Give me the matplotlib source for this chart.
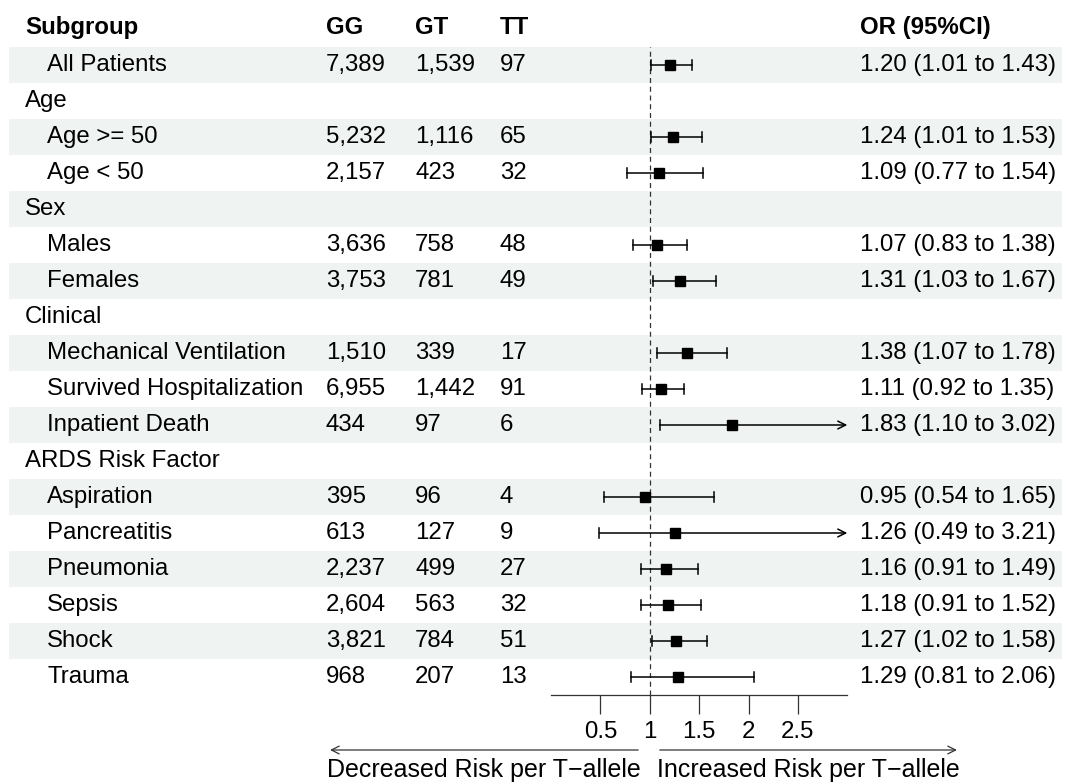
import matplotlib
matplotlib.use("Agg")
import matplotlib.pyplot as plt
import matplotlib.patches as mpatches

plt.rcParams['font.family'] = ['Liberation Sans', 'DejaVu Sans']

# ---- data ----
subgroups = ["All Patients", "Age", "Age >= 50", "Age < 50", "Sex", "Males", "Females",
             "Clinical", "Mechanical Ventilation", "Survived Hospitalization", "Inpatient Death",
             "ARDS Risk Factor", "Aspiration", "Pancreatitis", "Pneumonia", "Sepsis", "Shock", "Trauma"]
is_header = [False, True, False, False, True, False, False, True, False, False, False,
             True, False, False, False, False, False, False]
gg = ["7,389", "", "5,232", "2,157", "", "3,636", "3,753", "", "1,510", "6,955", "434",
      "", "395", "613", "2,237", "2,604", "3,821", "968"]
gt = ["1,539", "", "1,116", "423", "", "758", "781", "", "339", "1,442", "97",
      "", "96", "127", "499", "563", "784", "207"]
tt = ["97", "", "65", "32", "", "48", "49", "", "17", "91", "6",
      "", "4", "9", "27", "32", "51", "13"]
est = [1.20, None, 1.24, 1.09, None, 1.07, 1.31, None, 1.38, 1.11, 1.83,
       None, 0.95, 1.26, 1.16, 1.18, 1.27, 1.29]
low = [1.01, None, 1.01, 0.77, None, 0.83, 1.03, None, 1.07, 0.92, 1.10,
       None, 0.54, 0.49, 0.91, 0.91, 1.02, 0.81]
hi = [1.43, None, 1.53, 1.54, None, 1.38, 1.67, None, 1.78, 1.35, 3.02,
      None, 1.65, 3.21, 1.49, 1.52, 1.58, 2.06]
col_headers = ["Subgroup", "GG", "GT", "TT", "OR (95%CI)"]
xticks = [0.5, 1, 1.5, 2, 2.5]
xlim = (0, 3)
ref_line = 1
left_label = "Decreased Risk per T\u2212allele"
right_label = "Increased Risk per T\u2212allele"

# ---- layout (pixels) ----
W, H = 1068, 782
fig = plt.figure(figsize=(W / 100, H / 100), dpi=100)
n = len(subgroups)
top_px, bot_px = 47, 47 + 36 * n  # 695
fs = 17.3
shade = "#EFF3F2"

bg = fig.add_axes([0, (H - bot_px) / H, 1, (bot_px - top_px) / H])
bg.set_xlim(0, W)
bg.set_ylim(n, 0)
bg.axis("off")
for i in range(n):
    if i % 2 == 0:
        bg.add_patch(plt.Rectangle((9, i), 1053, 1, color=shade, lw=0, zorder=0))

col_x = [25, 326, 415, 500, 860]
for cx, h in zip(col_x, col_headers):
    bg.text(cx, -0.55, h, ha="left", va="center", fontsize=fs, fontweight="bold", clip_on=False)

for i in range(n):
    y = i + 0.5
    if is_header[i]:
        bg.text(25, y, subgroups[i], ha="left", va="center", fontsize=fs)
    else:
        bg.text(47, y, subgroups[i], ha="left", va="center", fontsize=fs)
        bg.text(col_x[1], y, gg[i], ha="left", va="center", fontsize=fs)
        bg.text(col_x[2], y, gt[i], ha="left", va="center", fontsize=fs)
        bg.text(col_x[3], y, tt[i], ha="left", va="center", fontsize=fs)
        bg.text(col_x[4], y, f"{est[i]:.2f} ({low[i]:.2f} to {hi[i]:.2f})",
                ha="left", va="center", fontsize=fs)

# forest axes
fx0, fx1 = 551, 847.3
ax = fig.add_axes([fx0 / W, (H - bot_px) / H, (fx1 - fx0) / W, (bot_px - top_px) / H])
ax.patch.set_alpha(0)
ax.set_xlim(*xlim)
ax.set_ylim(n, 0)
for s in ["top", "right", "left"]:
    ax.spines[s].set_visible(False)
ax.spines["bottom"].set_linewidth(0.9)
ax.spines["bottom"].set_color("#333333")
ax.set_yticks([])
ax.set_xticks(xticks)
ax.set_xticklabels([f"{t:g}" for t in xticks], fontsize=fs)
ax.tick_params(axis="x", length=14, width=0.9, color="#333333", pad=5)

ax.axvline(ref_line, ls=(0, (4, 3)), color="#333333", lw=0.9, zorder=1)

cap = 0.13
for i in range(n):
    if est[i] is None:
        continue
    y = i + 0.5
    lo, up = low[i], hi[i]
    lo_c = max(lo, xlim[0])
    up_c = min(up, xlim[1])
    if up > xlim[1]:
        ax.annotate("", xy=(xlim[1], y), xytext=(lo_c, y),
                    arrowprops=dict(arrowstyle="->", lw=1.1, color="black",
                                    shrinkA=0, shrinkB=0, mutation_scale=14),
                    annotation_clip=False)
    else:
        ax.plot([lo_c, up_c], [y, y], color="black", lw=1.1, zorder=2)
        ax.plot([up_c, up_c], [y - cap, y + cap], color="black", lw=1.1, zorder=2)
    ax.plot([lo_c, lo_c], [y - cap, y + cap], color="black", lw=1.1, zorder=2)
    ax.plot([est[i]], [y], marker="s", ms=7.5, color="black", zorder=3, lw=0)


def fx(px):
    return px / W


def fy(py):
    return 1 - py / H


tl = fig.text(fx(641), fy(770), left_label, ha="right", va="center", fontsize=18)
tr = fig.text(fx(657), fy(770), right_label, ha="left", va="center", fontsize=18)
fig.canvas.draw()
r = fig.canvas.get_renderer()
bl = tl.get_window_extent(r)
br = tr.get_window_extent(r)
fig.patches.append(mpatches.FancyArrowPatch(
    (bl.x1 / W, fy(750)), (bl.x0 / W, fy(750)), transform=fig.transFigure,
    arrowstyle="->", mutation_scale=14, lw=0.9, color="#333333"))
fig.patches.append(mpatches.FancyArrowPatch(
    (br.x0 / W, fy(750)), (br.x1 / W, fy(750)), transform=fig.transFigure,
    arrowstyle="->", mutation_scale=14, lw=0.9, color="#333333"))

fig.savefig("out.png", dpi=100)
